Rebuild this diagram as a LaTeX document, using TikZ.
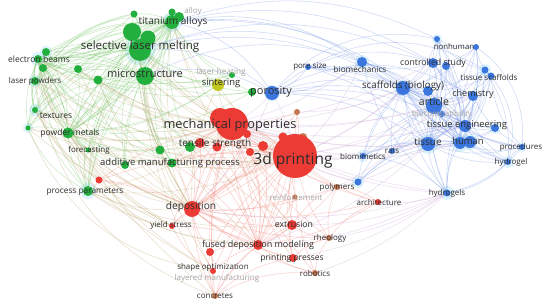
\documentclass[tikz,border=0pt]{standalone}
\usepackage{fontspec}
\setmainfont{Open Sans}
\definecolor{cg}{RGB}{34,175,62}
\definecolor{cr}{RGB}{236,58,52}
\definecolor{cb}{RGB}{58,118,222}
\definecolor{cy}{RGB}{196,200,30}
\definecolor{cbr}{RGB}{196,118,78}
\definecolor{eg}{RGB}{110,195,95}
\definecolor{et}{RGB}{190,165,110}
\definecolor{er}{RGB}{242,125,115}
\definecolor{eb}{RGB}{125,155,232}
\definecolor{ep}{RGB}{195,155,205}
\definecolor{lab}{RGB}{45,45,45}
\begin{document}
\begin{tikzpicture}[x=1pt,y=-1pt,
  nd/.style={circle,inner sep=0pt,minimum size=#1},
  gn/.style={nd=#1,fill=cg},
  rn/.style={nd=#1,fill=cr},
  bn/.style={nd=#1,fill=cb},
  yn/.style={nd=#1,fill=cy},
  brn/.style={nd=#1,fill=cbr},
  halo/.style={circle,fill=cyan!30,opacity=.45,inner sep=0pt,minimum size=#1},
  ge/.style={draw=eg,opacity=.35,line width=.55pt},
  te/.style={draw=et,opacity=.35,line width=.55pt},
  re/.style={draw=er,opacity=.35,line width=.55pt},
  be/.style={draw=eb,opacity=.38,line width=.55pt},
  pe/.style={draw=ep,opacity=.32,line width=.55pt},
  lbl/.style={text=lab,inner sep=0pt,font=\fontsize{#1}{#1}\selectfont},
  flbl/.style={text=gray!70,inner sep=0pt,font=\fontsize{#1}{#1}\selectfont}
]
\useasboundingbox (0,0) rectangle (550,308);
\fill[white] (0,0) rectangle (550,308);

% ---------- node positions ----------
% green
\coordinate (ti) at (172,22);   \coordinate (ti2) at (179,17);
\coordinate (al) at (172,12);   \coordinate (g1) at (134,14);
\coordinate (slm) at (140,50);  \coordinate (slm2) at (132,32);
\coordinate (slm3) at (148,38); \coordinate (eb) at (38,59);
\coordinate (eb2) at (46,52);   \coordinate (eb3) at (43,68);
\coordinate (lp) at (35,81);    \coordinate (ms) at (145,76);
\coordinate (g2) at (98,80);    \coordinate (g3) at (78,69);
\coordinate (lh) at (232,75);   \coordinate (tex) at (35,110);
\coordinate (tex2) at (28,128); \coordinate (pm) at (68,133);
\coordinate (fc) at (88,150);   \coordinate (ts1) at (190,147);
\coordinate (ts2) at (160,150); \coordinate (amp) at (172,163);
\coordinate (amp2) at (125,165);\coordinate (pp) at (88,191);
\coordinate (pg) at (252,92);   \coordinate (sin) at (218,85);
% red
\coordinate (mp) at (232,124);  \coordinate (mp2) at (220,118);
\coordinate (p3d) at (295,156); \coordinate (r1) at (283,137);
\coordinate (r2) at (303,137);  \coordinate (r3) at (263,146);
\coordinate (r4) at (250,152);  \coordinate (r5) at (200,143);
\coordinate (r6) at (217,147);  \coordinate (r7) at (247,134);
\coordinate (dep) at (192,209); \coordinate (ys) at (172,226);
\coordinate (fdm) at (258,245); \coordinate (fdm2) at (210,252);
\coordinate (so) at (213,271);  \coordinate (con) at (215,296);
\coordinate (ext) at (292,225); \coordinate (rh) at (329,238);
\coordinate (prs) at (293,258); \coordinate (rob) at (315,273);
\coordinate (pol) at (337,187); \coordinate (arch) at (378,202);
\coordinate (ppr) at (99,180);  \coordinate (rein) at (295,197);
\coordinate (brn1) at (297,112);
% blue
\coordinate (por) at (272,93);  \coordinate (ps) at (308,67);
\coordinate (bm) at (362,62);   \coordinate (sb) at (403,88);
\coordinate (sb2) at (428,91);  \coordinate (cs) at (433,63);
\coordinate (cs2) at (446,66);  \coordinate (nh) at (437,39);
\coordinate (nh2) at (476,47);  \coordinate (tsc) at (485,70);
\coordinate (tsc2) at (491,76); \coordinate (chem) at (473,96);
\coordinate (art) at (434,106); \coordinate (bc) at (442,114);
\coordinate (te) at (465,126);  \coordinate (te2) at (495,128);
\coordinate (tis) at (428,144); \coordinate (hum) at (460,143);
\coordinate (hum2) at (470,142);\coordinate (proc) at (522,147);
\coordinate (hyd) at (508,162); \coordinate (hyds) at (447,193);
\coordinate (bmim) at (363,156);\coordinate (b5) at (358,182);
\coordinate (rats) at (392,151);

% ---------- halos ----------
\foreach \p/\s in {eb/14,eb2/12,lp/12,tex/12,tex2/10,pp/16,slm/30,ti/20,
  tis/20,hum/18,hum2/16,hyds/14,hyd/12,proc/10,te2/12,tsc/12,nh/10,
  bm/14,bmim/12,b5/12,por/16,art/16,sb/16}
  \node[halo=\s] at (\p) {};

% ---------- edges ----------
% green cluster
\foreach \a in {ti,ti2,al,g1,slm2,slm3,eb,eb2,eb3,lp,g2,g3,lh,tex,tex2,
  pm,fc,ts1,ts2,amp,amp2,pp,pg,sin}
  \foreach \b in {slm,ms,ti,pm,eb}
    \draw[ge] (\a) to[bend left=16] (\b);
\foreach \a/\b in {slm/ms,eb/lp,lp/tex,tex/tex2,tex2/pp,lp/pp,eb2/g3,
  g3/g2,g2/amp,fc/pp,amp/ts2,ts1/amp,eb/tex,eb3/fc,g1/lp,slm2/lp,slm3/pp}
  \draw[ge] (\a) to[bend right=20] (\b);
\foreach \a/\b in {ti/tex,slm/tex2,ti/lp,slm2/pp,ti/pp,g1/tex2}
  \draw[ge] (\a) to[bend right=38] (\b);
% green - red
\foreach \a in {ti,slm,slm2,ms,eb,lp,tex,tex2,pm,fc,pp,g2,g3,amp,ts2,sin}
  \foreach \b in {mp,p3d,dep}
    \draw[te] (\a) to[bend right=14] (\b);
\foreach \a/\b in {slm/con,pp/fdm,ms/fdm,fc/ys,pm/so,pp/ext,eb/ppr,
  tex/ppr,pp/ppr,slm/so,ms/ext,pm/ys,ti/ext,pp/ys,lp/ys,eb/con,tex/so}
  \draw[te] (\a) to[bend right=14] (\b);
\foreach \a/\b in {tex/fdm,tex2/so,eb/ys,lp/con}
  \draw[te] (\a) to[bend right=30] (\b);
% red cluster
\foreach \a in {mp2,r1,r2,r3,r4,r5,r6,r7,dep,ys,fdm,fdm2,so,con,ext,rh,
  prs,rob,pol,arch,ppr,rein,brn1,ts1,amp}
  \foreach \b in {p3d,mp,dep,fdm}
    \draw[re] (\a) to[bend left=12] (\b);
\foreach \a/\b in {so/con,so/fdm2,fdm2/con,ext/rh,ext/prs,rh/rob,arch/rh,
  pol/ext,prs/con,rob/con,ys/so,ext/con,rh/prs,pol/rh,arch/pol,rein/ext}
  \draw[re] (\a) to[bend right=16] (\b);
% blue cluster
\foreach \a in {por,ps,bm,sb,sb2,cs,cs2,nh,nh2,tsc,tsc2,chem,bc,te2,tis,
  hum,hum2,proc,hyd,hyds,bmim,b5,rats}
  \foreach \b in {art,sb,te,tis,hum}
    \draw[be] (\a) to[bend left=16] (\b);
\foreach \a/\b in {cs/nh,cs/nh2,nh/nh2,nh/tsc,nh2/tsc2,tsc/chem,tsc2/proc,
  proc/hyd,hyds/hyd,hyds/bmim,chem/hyds,cs/chem,por/ps,por/bm,ps/bm,
  bm/cs,hyds/proc,hyd/tsc,nh/hyds,cs2/hyd,bm/hyds,chem/proc}
  \draw[be] (\a) to[bend right=18] (\b);
\foreach \a/\b in {ms/por,slm/bm,ti/bm,ti/sb,ti/art,slm/cs,slm/por,
  ti/por,ti/cs,slm/sb,ms/bm,ti/nh}
  \draw[be] (\a) to[bend left=22] (\b);
\foreach \a/\b in {por/cs,por/nh,por/chem,ps/tsc,tsc/hyd,nh2/proc}
  \draw[be] (\a) to[bend left=30] (\b);
% red - blue
\foreach \a in {p3d,mp}
  \foreach \b in {sb,art,tis,hum,te,chem,bm,por,bmim,b5,hyds,cs}
    \draw[pe] (\a) to[bend right=10] (\b);
\foreach \a/\b in {arch/hyds,rob/hyds,prs/hyds,pol/tis,ext/hyds,
  dep/hyds,brn1/sb,fdm/hyds,rh/hyds,pol/art,dep/por,fdm/tis}
  \draw[pe] (\a) to[bend right=12] (\b);

% ---------- node discs ----------
\node[gn=7]  (nal)  at (al) {};   \node[gn=7] (ng1) at (g1) {};
\node[gn=14] (nti)  at (ti) {};   \node[gn=10] (nti2) at (ti2) {};
\node[gn=18] (nslm2) at (slm2) {};\node[gn=15] (nslm3) at (slm3) {};
\node[gn=22] (nslm) at (slm) {};  \node[gn=8] (neb) at (eb) {};
\node[gn=8]  (neb2) at (eb2) {};  \node[gn=8] (neb3) at (eb3) {};
\node[gn=8]  (nlp)  at (lp) {};   \node[gn=18] (nms) at (ms) {};
\node[gn=9]  (ng2)  at (g2) {};   \node[gn=8] (ng3) at (g3) {};
\node[gn=6]  (nlh)  at (lh) {};   \node[gn=6] (ntex) at (tex) {};
\node[gn=5]  (ntex2) at (tex2) {};\node[gn=11] (npm) at (pm) {};
\node[gn=5]  (nfc)  at (fc) {};   \node[gn=9] (nts2) at (ts2) {};
\node[gn=8]  (namp2) at (amp2) {};\node[gn=9] (namp) at (amp) {};
\node[gn=10] (npp)  at (pp) {};   \node[gn=8] (npg) at (pg) {};
\node[gn=10] (nts1) at (ts1) {};  \node[yn=12] (nsin) at (sin) {};
\node[rn=20] (nmp2) at (mp2) {};  \node[rn=32] (nmp) at (mp) {};
\node[rn=9]  (nr1) at (r1) {};    \node[brn=8] (nr2) at (r2) {};
\node[rn=10] (nr3) at (r3) {};    \node[rn=8] (nr4) at (r4) {};
\node[rn=10] (nr5) at (r5) {};    \node[rn=9] (nr6) at (r6) {};
\node[rn=8]  (nr7) at (r7) {};    \node[rn=44] (np3d) at (p3d) {};
\node[rn=16] (ndep) at (dep) {};  \node[rn=6] (nys) at (ys) {};
\node[rn=10] (nfdm) at (fdm) {};  \node[rn=8] (nfdm2) at (fdm2) {};
\node[rn=6]  (nso) at (so) {};    \node[brn=6] (ncon) at (con) {};
\node[rn=10] (next) at (ext) {};  \node[brn=6] (nrh) at (rh) {};
\node[rn=8]  (nprs) at (prs) {};  \node[brn=6] (nrob) at (rob) {};
\node[brn=6] (npol) at (pol) {};  \node[rn=6] (narch) at (arch) {};
\node[rn=7]  (nppr) at (ppr) {};  \node[brn=5] (nrein) at (rein) {};
\node[brn=6] (nbrn1) at (brn1) {};
\node[bn=14] (npor) at (por) {};  \node[bn=6] (nps) at (ps) {};
\node[bn=10] (nbm) at (bm) {};    \node[bn=14] (nsb) at (sb) {};
\node[bn=10] (nsb2) at (sb2) {};  \node[bn=10] (ncs) at (cs) {};
\node[bn=8]  (ncs2) at (cs2) {};  \node[bn=6] (nnh) at (nh) {};
\node[bn=6]  (nnh2) at (nh2) {};  \node[bn=7] (ntsc) at (tsc) {};
\node[bn=7]  (ntsc2) at (tsc2) {};\node[bn=10] (nchem) at (chem) {};
\node[bn=16] (nart) at (art) {};  \node[bn=6] (nbc) at (bc) {};
\node[bn=12] (nte) at (te) {};    \node[bn=8] (nte2) at (te2) {};
\node[bn=14] (ntis) at (tis) {};  \node[bn=12] (nhum) at (hum) {};
\node[bn=12] (nhum2) at (hum2) {};\node[bn=6] (nproc) at (proc) {};
\node[bn=6]  (nhyd) at (hyd) {};  \node[bn=7] (nhyds) at (hyds) {};
\node[bn=6]  (nbmim) at (bmim) {};\node[bn=7] (nb5) at (b5) {};
\node[bn=6]  (nrats) at (rats) {};

% ---------- labels ----------
\node[flbl=8] (Lal) at (193,11) {alloy};
\node[lbl=10.1] (Lti) at (173,22) {titanium alloys};
\node[lbl=11.5] (Lslm) at (140,47) {selective laser melting};
\node[lbl=11] (Lms) at (145,74) {microstructure};
\node[lbl=8.6] (Leb) at (39,59) {electron beams};
\node[lbl=8] (Llp) at (35,81) {laser powders};
\node[flbl=8.2] (Llh) at (221,72) {laser heating};
\node[lbl=9.4] (Lsin) at (221,83) {sintering};
\node[lbl=11] (Lpor) at (271,92) {porosity};
\node[lbl=8.5] (Ltex) at (56,116) {textures};
\node[lbl=8.5] (Lpm) at (70,133) {powder metals};
\node[lbl=8] (Lfc) at (89,150) {forecasting};
\node[lbl=12.8] (Lmp) at (230,125) {mechanical properties};
\node[lbl=10] (Lts) at (215,144) {tensile strength};
\node[lbl=15.5] (Lp3d) at (293,160) {3d printing};
\node[lbl=9.5] (Lamp) at (170,163) {additive manufacturing process};
\node[lbl=8.3] (Lpp) at (85,192) {process parameters};
\node[lbl=10.2] (Ldep) at (191,207) {deposition};
\node[lbl=8] (Lys) at (171,225) {yield stress};
\node[lbl=9] (Lfdm) at (258,245) {fused deposition modeling};
\node[lbl=8] (Lso) at (213,267) {shape optimization};
\node[flbl=8] (Llm) at (217,278) {layered manufacturing};
\node[lbl=8] (Lcon) at (215,296) {concretes};
\node[lbl=8.7] (Lext) at (294,224) {extrusion};
\node[lbl=8] (Lrh) at (330,238) {rheology};
\node[lbl=8.5] (Lprs) at (292,258) {printing presses};
\node[lbl=8] (Lrob) at (315,273) {robotics};
\node[lbl=8] (Lpol) at (337,187) {polymers};
\node[flbl=8] (Lrein) at (296,197) {reinforcement};
\node[lbl=8] (Larch) at (379,202) {architecture};
\node[lbl=8] (Lbmim) at (363,156) {biomimetics};
\node[lbl=8] (Lrats) at (392,151) {rats};
\node[lbl=8] (Lhyds) at (447,193) {hydrogels};
\node[lbl=8] (Lhyd) at (511,162) {hydrogel};
\node[lbl=8] (Lproc) at (521,147) {procedures};
\node[lbl=10] (Ltis) at (428,142) {tissue};
\node[lbl=9.4] (Lhum) at (468,141) {human};
\node[lbl=9.4] (Lte) at (467,125) {tissue engineering};
\node[flbl=8] (Lbc) at (442,114) {biocompatibility};
\node[lbl=10.5] (Lart) at (434,102) {article};
\node[lbl=9] (Lchem) at (473,94) {chemistry};
\node[lbl=9.8] (Lsb) at (403,86) {scaffolds (biology)};
\node[lbl=8.2] (Lbm) at (360,69) {biomechanics};
\node[lbl=8] (Lps) at (310,67) {pore size};
\node[lbl=8.7] (Lcs) at (433,63) {controlled study};
\node[lbl=7.8] (Lnh) at (454,47) {nonhuman};
\node[lbl=8] (Ltsc) at (489,77) {tissue scaffolds};
\end{tikzpicture}
\end{document}
